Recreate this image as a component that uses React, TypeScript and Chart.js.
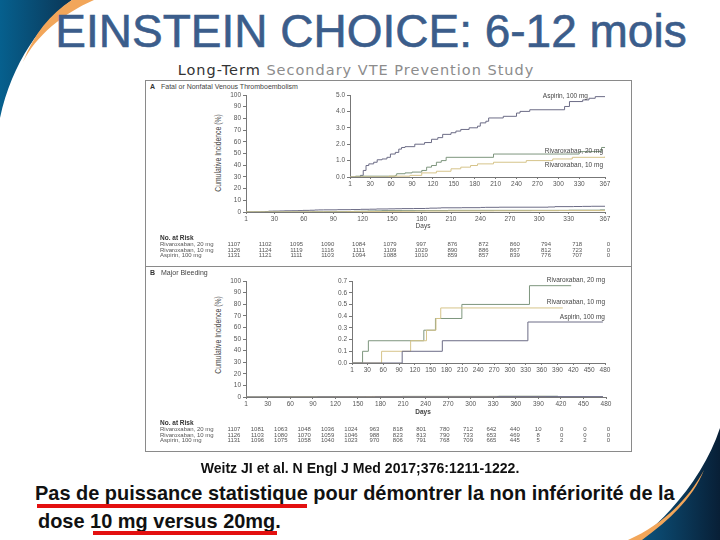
import React, { useEffect, useRef } from "react";
import { Chart, registerables } from "chart.js";
Chart.register(...registerables);

// ---------- data ----------
const A_X_TICKS = [1, 30, 60, 90, 120, 150, 180, 210, 240, 270, 300, 330, 367];
const B_X_TICKS = [1, 30, 60, 90, 120, 150, 180, 210, 240, 270, 300, 330, 360, 390, 420, 450, 480];
const MAIN_Y_TICKS = [0, 10, 20, 30, 40, 50, 60, 70, 80, 90, 100];
const A_INSET_Y_TICKS = [0, 0.5, 1, 1.5, 2, 2.5, 3, 3.5, 4, 4.5, 5];
const B_INSET_Y_TICKS = [0, 0.1, 0.2, 0.3, 0.4, 0.5, 0.6, 0.7];

const A_ASP_DAYS = [1, 16, 20, 24, 28, 35, 40, 47, 54, 59, 66, 71, 75, 80, 94, 108, 118, 127, 134, 146, 153, 160, 172, 184, 188, 196, 200, 221, 240, 245, 259, 309, 316, 335, 344, 353, 367];
const A_ASP_VALS = [0, 0.1, 0.4, 0.7, 0.8, 0.9, 1.05, 1.1, 1.2, 1.4, 1.5, 1.7, 1.8, 1.85, 2.0, 2.1, 2.3, 2.4, 2.6, 2.7, 2.8, 2.9, 3.0, 3.1, 3.3, 3.4, 3.6, 3.7, 3.9, 4.0, 4.1, 4.3, 4.6, 4.7, 4.8, 4.9, 4.9];
const A_R20_DAYS = [1, 9, 66, 68, 80, 90, 104, 111, 118, 125, 132, 139, 207, 330, 362, 367];
const A_R20_VALS = [0, 0.05, 0.1, 0.2, 0.25, 0.3, 0.4, 0.6, 0.7, 0.9, 1.0, 1.2, 1.4, 1.55, 1.8, 1.8];
const A_R10_DAYS = [1, 57, 87, 104, 125, 146, 160, 174, 184, 207, 254, 292, 320, 367];
const A_R10_VALS = [0, 0.05, 0.1, 0.25, 0.35, 0.5, 0.6, 0.7, 0.8, 0.9, 1.0, 1.1, 1.2, 1.25];

const B_R20_DAYS = [1, 21, 32, 137, 159, 209, 337, 416];
const B_R20_VALS = [0, 0.1, 0.19, 0.28, 0.38, 0.5, 0.66, 0.66];
const B_R10_DAYS = [1, 57, 112, 142, 160, 169, 400];
const B_R10_VALS = [0, 0.1, 0.19, 0.28, 0.38, 0.47, 0.47];
const B_ASP_DAYS = [1, 96, 172, 334, 476];
const B_ASP_VALS = [0, 0.1, 0.19, 0.35, 0.35];

const ROW_LABELS = ["Rivaroxaban, 20 mg", "Rivaroxaban, 10 mg", "Aspirin, 100 mg"];
const A_RISK_R20 = [1107, 1102, 1095, 1090, 1084, 1079, 997, 876, 872, 860, 794, 718, 0];
const A_RISK_R10 = [1126, 1124, 1119, 1116, 1111, 1109, 1029, 890, 886, 867, 812, 723, 0];
const A_RISK_ASP = [1131, 1121, 1111, 1103, 1094, 1088, 1010, 859, 857, 839, 776, 707, 0];
const B_RISK_R20 = [1107, 1081, 1063, 1048, 1036, 1024, 963, 818, 801, 780, 712, 642, 440, 10, 0, 0, 0];
const B_RISK_R10 = [1126, 1103, 1080, 1070, 1059, 1046, 988, 823, 813, 790, 733, 653, 469, 8, 0, 0, 0];
const B_RISK_ASP = [1131, 1096, 1075, 1058, 1040, 1023, 970, 806, 791, 768, 709, 665, 445, 5, 2, 2, 0];

const COL_ASP = "#6c6c86";
const COL_R20 = "#7e967e";
const COL_R10 = "#d6c48a";

const SANS = "'Liberation Sans', Arial, sans-serif";

type Series = { days: number[]; vals: number[]; color: string };

function KMChart(props: {
  l: number; t: number; r: number; b: number;
  xMax: number; xTicks: number[]; yMax: number; yTicks: number[]; yDigits: number;
  series: Series[]; fs: number;
}) {
  const ref = useRef<HTMLCanvasElement>(null);
  const YW = 34, PT = 6, PR = 12, XH = 12;
  const w = YW + (props.r - props.l) + PR;
  const h = PT + (props.b - props.t) + XH;
  useEffect(() => {
    const font = { size: props.fs, family: SANS };
    const chart = new Chart(ref.current as HTMLCanvasElement, {
      type: "line",
      data: {
        datasets: props.series.map((s) => ({
          data: s.days.map((d, i) => ({ x: d, y: s.vals[i] })),
          borderColor: s.color,
          borderWidth: 1,
          pointRadius: 0,
          stepped: "before" as const,
          fill: false,
        })),
      },
      options: {
        animation: false,
        responsive: false,
        devicePixelRatio: 1,
        events: [],
        layout: { padding: { top: PT, right: PR, left: 0, bottom: 0 } },
        plugins: { legend: { display: false }, tooltip: { enabled: false } },
        scales: {
          x: {
            type: "linear",
            min: 1,
            max: props.xMax,
            afterBuildTicks: (s: any) => { s.ticks = props.xTicks.map((v) => ({ value: v })); },
            afterFit: (s: any) => { s.height = XH; s.paddingLeft = 0; s.paddingRight = 0; },
            grid: { drawOnChartArea: false, drawTicks: true, tickLength: 2, color: "#777" },
            border: { color: "#777", width: 1 },
            ticks: { autoSkip: false, maxRotation: 0, font, color: "#555", padding: 1,
              callback: (v: any) => String(v) },
          },
          y: {
            type: "linear",
            min: 0,
            max: props.yMax,
            afterBuildTicks: (s: any) => { s.ticks = props.yTicks.map((v) => ({ value: v })); },
            afterFit: (s: any) => { s.width = YW; s.paddingTop = 0; s.paddingBottom = 0; },
            grid: { drawOnChartArea: false, drawTicks: true, tickLength: 3, color: "#777" },
            border: { color: "#777", width: 1 },
            ticks: { font, color: "#555", padding: 2,
              callback: (v: any) => Number(v).toFixed(props.yDigits) },
          },
        },
      } as any,
    });
    return () => chart.destroy();
  }, []);
  return (
    <canvas
      ref={ref}
      width={w}
      height={h}
      style={{ position: "absolute", left: props.l - YW, top: props.t - PT, width: w, height: h }}
    />
  );
}

function T(p: { x: number; y: number; s: number; align?: "left" | "center" | "right"; bold?: boolean; color?: string; family?: string; children: any; rot?: boolean; ls?: number; sx?: number; stroke?: string }) {
  const tx = p.align === "center" ? "-50%" : p.align === "right" ? "-100%" : "0";
  const sx = p.sx || 1;
  const origin = p.align === "center" ? "center" : p.align === "right" ? "right" : "left";
  return (
    <div
      style={{
        position: "absolute", left: p.x, top: p.y, whiteSpace: "nowrap",
        fontSize: p.s, lineHeight: 1, fontWeight: p.bold ? "bold" : "normal",
        color: p.color || "#444", fontFamily: p.family || SANS,
        letterSpacing: p.ls || 0,
        WebkitTextStroke: p.stroke || undefined,
        transform: p.rot ? `translate(-50%,-50%) rotate(-90deg) scaleX(${sx})` : `translate(${tx},-50%)`,
      } as any}
    >
      <div style={{ transform: p.rot ? "none" : `scaleX(${sx})`, transformOrigin: origin }}>{p.children}</div>
    </div>
  );
}

function RiskTable(p: { y: number; rows: number[][]; x0: number; dx: number }) {
  const out: any[] = [];
  out.push(<T key="h" x={160} y={p.y} s={6.5} bold color="#333">No. at Risk</T>);
  p.rows.forEach((row, ri) => {
    const yy = p.y + 6 + ri * 5.6;
    out.push(<T key={"l" + ri} x={160} y={yy} s={6} color="#555">{ROW_LABELS[ri]}</T>);
    row.forEach((v, ci) => {
      out.push(<T key={ri + "-" + ci} x={p.x0 + ci * p.dx} y={yy} s={6} align="center" color="#555">{v}</T>);
    });
  });
  return <>{out}</>;
}

export default function App() {
  const aSeries: Series[] = [
    { days: A_R10_DAYS, vals: A_R10_VALS, color: COL_R10 },
    { days: A_R20_DAYS, vals: A_R20_VALS, color: COL_R20 },
    { days: A_ASP_DAYS, vals: A_ASP_VALS, color: COL_ASP },
  ];
  const bSeries: Series[] = [
    { days: B_ASP_DAYS, vals: B_ASP_VALS, color: COL_ASP },
    { days: B_R10_DAYS, vals: B_R10_VALS, color: COL_R10 },
    { days: B_R20_DAYS, vals: B_R20_VALS, color: COL_R20 },
  ];
  return (
    <div style={{ position: "absolute", left: 0, top: 0, width: 720, height: 540, background: "#fff", overflow: "hidden", fontFamily: SANS }}>
      <svg width={720} height={540} style={{ position: "absolute", left: 0, top: 0 }}>
        <defs>
          <linearGradient id="gTL" x1="0" y1="0" x2="1" y2="0">
            <stop offset="0" stopColor="#06608e" />
            <stop offset="1" stopColor="#0b3656" />
          </linearGradient>
          <linearGradient id="gBR" x1="0" y1="0" x2="1" y2="0">
            <stop offset="0" stopColor="#0c5580" />
            <stop offset="1" stopColor="#081f36" />
          </linearGradient>
        </defs>
        <path d="M0,0 L72,0 C42,22 12,62 0,118 Z" fill="url(#gTL)" />
        <path d="M72,0 L94,0 C62,14 36,36 23,62 C34,34 50,14 72,0 Z" fill="#f2a65a" />
        <path d="M720,428 C706,470 676,510 638,540 L720,540 Z" fill="url(#gBR)" />
        <path d="M704,470 C688,500 662,525 628,540 L642,540 C672,518 694,496 704,470 Z" fill="#f2a65a" />
      </svg>

      <T x={371} y={31} s={46} align="center" color="#3b5d8b" stroke="0.6px #3b5d8b">EINSTEIN CHOICE: 6-12 mois</T>
      <T x={356} y={70} s={14.5} align="center" color="#8c8c8c" family="'DejaVu Sans', sans-serif" ls={1}>
        <span style={{ color: "#333" }}>Long-Term</span> Secondary VTE Prevention Study
      </T>

      {/* figure box */}
      <div style={{ position: "absolute", left: 145, top: 80, width: 487, height: 372, border: "1px solid #8a8a8a", boxSizing: "border-box" }} />
      <div style={{ position: "absolute", left: 145, top: 266, width: 487, height: 1, background: "#8a8a8a" }} />

      <T x={150} y={86} s={7} bold color="#333">A</T>
      <T x={161} y={86} s={7} color="#444">Fatal or Nonfatal Venous Thromboembolism</T>
      <T x={218} y={153} s={8.5} rot sx={0.8} color="#444">Cumulative Incidence (%)</T>

      <KMChart l={246} t={95} r={605} b={212} xMax={367} xTicks={A_X_TICKS} yMax={100} yTicks={MAIN_Y_TICKS} yDigits={0} series={aSeries} fs={6.5} />
      <KMChart l={350} t={95} r={605} b={177} xMax={367} xTicks={A_X_TICKS} yMax={5} yTicks={A_INSET_Y_TICKS} yDigits={1} series={aSeries} fs={6.5} />
      <T x={588} y={96} s={6.5} align="right">Aspirin, 100 mg</T>
      <T x={603} y={151} s={6.5} align="right">Rivaroxaban, 20 mg</T>
      <T x={603} y={165} s={6.5} align="right">Rivaroxaban, 10 mg</T>
      <T x={423} y={226} s={6.5} align="center" color="#444">Days</T>
      <RiskTable y={238} rows={[A_RISK_R20, A_RISK_R10, A_RISK_ASP]} x0={234} dx={31.2} />

      <T x={150} y={272} s={7} bold color="#333">B</T>
      <T x={161} y={272} s={7} color="#444">Major Bleeding</T>
      <T x={218} y={335} s={8.5} rot sx={0.8} color="#444">Cumulative Incidence (%)</T>
      <KMChart l={246} t={281} r={606} b={397} xMax={480} xTicks={B_X_TICKS} yMax={100} yTicks={MAIN_Y_TICKS} yDigits={0} series={bSeries} fs={6.5} />
      <KMChart l={352} t={281} r={605} b={363} xMax={480} xTicks={B_X_TICKS} yMax={0.7} yTicks={B_INSET_Y_TICKS} yDigits={1} series={bSeries} fs={6.5} />
      <T x={605} y={280} s={6.5} align="right">Rivaroxaban, 20 mg</T>
      <T x={605} y={302} s={6.5} align="right">Rivaroxaban, 10 mg</T>
      <T x={605} y={317} s={6.5} align="right">Aspirin, 100 mg</T>
      <T x={423} y={412} s={6.5} align="center" bold color="#444">Days</T>
      <RiskTable y={423} rows={[B_RISK_R20, B_RISK_R10, B_RISK_ASP]} x0={234} dx={23.4} />

      <T x={360} y={468} s={14.5} align="center" bold color="#111" sx={0.97}>Weitz JI et al. N Engl J Med 2017;376:1211-1222.</T>
      <T x={35} y={492} s={21} bold color="#111" sx={0.95}>Pas de puissance statistique pour démontrer la non infériorité de la</T>
      <T x={38} y={520} s={21} bold color="#111" sx={0.95}>dose 10 mg versus 20mg.</T>
      <div style={{ position: "absolute", left: 37, top: 504, width: 270, height: 4, background: "#e31010" }} />
      <div style={{ position: "absolute", left: 93, top: 531, width: 184, height: 4, background: "#e31010" }} />
    </div>
  );
}
